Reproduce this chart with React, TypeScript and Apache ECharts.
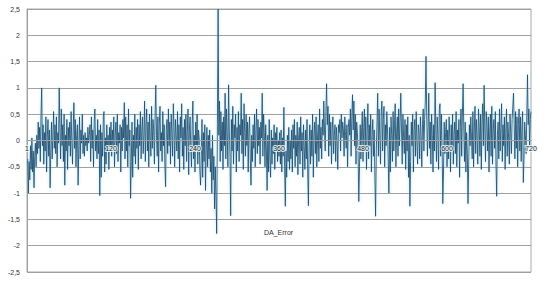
import React, { useEffect, useRef } from "react";
import * as echarts from "echarts";

const seriesName = "DA_Error";
const xTicks = [0, 120, 240, 360, 480, 600, 720];
const yMin = -2.5;
const yMax = 2.5;

const errValues: number[] = [
  -0.35, -1.0, -0.4, -0.75, -0.1, -0.55, 0.05, -0.6, -0.2, -0.9, -0.3, -0.05, -0.5, 0.1, -0.25, 0.35, -0.15, 0.25, -0.4, 0.5,
  1.0, -0.1, 0.3, -0.45, 0.15, -0.2, 0.45, -0.6, 0.05, 0.4, -0.3, 0.2, -0.9, -0.2, 0.35, -0.35, 0.1, 0.55, -0.15, 0.3,
  -0.25, 0.45, -0.5, 0.15, -0.05, 1.0, 0.2, -0.35, 0.6, -0.1, 0.3, -0.4, 0.5, -0.85, 0.1, -0.2, 0.4, -0.55, 0.25, -0.1,
  0.35, -0.3, 0.55, 0.0, -0.45, 0.2, 0.72, -0.15, 0.4, -0.5, 0.1, 0.3, -0.85, -0.1, 0.45, -0.35, 0.2, -0.05, 0.5, -0.25,
  0.1, -0.3, 0.15, -0.1, 0.05, -0.2, 0.25, -0.05, 0.1, 0.3, -0.4, 0.45, -0.15, 0.2, -0.5, 0.35, 0.6, -0.2, 0.1, -0.35,
  0.4, -0.25, 0.2, -1.05, 0.3, -0.7, 0.15, -0.3, 0.45, 0.55, -0.6, 0.05, -0.45, 0.3, -0.2, 0.1, -0.55, 0.25, -0.1, 0.35,
  -0.3, 0.2, -0.15, 0.45, -0.5, 0.1, 0.35, -0.25, 0.5, -0.4, 0.15, -0.05, 0.3, -0.6, 0.25, -0.2, 0.4, 0.05, 0.72, -0.35,
  0.45, -0.2, 0.3, -0.5, 0.6, -0.1, 0.2, -1.1, -0.4, 0.35, -0.7, 0.1, -0.3, 0.5, -0.45, 0.25, -0.15, 0.4, -0.55, 0.3,
  -0.1, 0.55, -0.35, 0.2, 0.45, -0.25, 0.1, 0.75, -0.4, 0.3, 0.6, -0.2, 0.35, -0.5, 0.5, 0.05, -0.3, 0.65, -0.15, 0.4,
  0.2, -0.45, 0.5, 1.05, 0.1, -0.3, 0.45, -0.6, 0.3, 0.65, -0.2, 0.15, -0.4, 0.55, -0.1, 0.3, -0.5, -0.88, 0.2, 0.4,
  -0.25, 0.6, -0.1, 0.35, -0.45, 0.5, 0.15, -0.3, 0.7, 0.25, -0.5, 0.4, 0.1, -0.2, 0.55, -0.35, 0.3, -0.6, 0.45, 0.05,
  0.7, -0.3, 0.25, -0.55, 0.4, -0.1, 0.5, -0.4, 0.15, 0.6, -0.65, 0.2, 0.45, -0.2, -0.5, 0.3, 0.75, -0.35, 0.1, -0.6,
  0.35, -0.2, 0.5, -0.45, 0.2, 0.05, -0.6, -0.85, -0.3, 0.4, -0.7, 0.15, -0.4, 0.3, -0.95, -0.2, 0.25, -0.5, 0.1, -0.35,
  0.2, -0.6, -0.15, -1.0, 0.1, -0.75, -0.3, -1.3, -0.5, -1.1, -1.77, 0.3, 2.5, 0.1, 0.75, -0.4, 0.55, -0.2, 0.35, -0.55,
  0.45, -0.1, 0.9, -0.35, 0.6, 0.15, -0.5, 1.06, 0.2, -0.3, -1.43, 0.4, -0.2, 0.65, -0.45, 0.3, 0.05, 0.5, -0.6, 0.25,
  -0.2, 0.55, -0.4, 0.3, 0.1, 0.9, -0.25, 0.4, -0.55, 0.7, 0.15, -0.3, 0.5, -0.1, 0.35, -0.6, 0.2, 0.45, -0.35, -0.85,
  0.1, -0.4, 0.3, -0.15, 0.5, -0.5, 0.2, 0.6, -0.25, 0.4, -0.1, 0.25, -0.45, 0.35, 0.05, 0.9, -0.3, 0.5, 0.15, -0.5,
  0.3, -0.2, -0.95, 0.1, -0.6, 0.4, -0.35, -0.7, 0.2, -0.45, 0.05, -0.25, 0.3, -0.55, 0.15, -0.1, 0.25, -0.4, 0.0, -0.3,
  0.15, -0.45, 0.2, -0.6, 0.05, -0.3, 0.63, -0.5, -1.25, -0.2, -0.7, 0.1, -0.4, 0.25, -0.55, 0.0, -0.35, 0.2, -0.6, 0.3,
  -0.15, 0.4, -0.5, 0.1, -0.3, 0.35, -0.65, 0.05, 0.25, -0.45, 0.45, -0.2, 0.15, -0.7, 0.3, -0.1, -0.55, 0.2, -0.35, 0.4,
  -0.6, -1.24, -0.1, 0.3, -0.45, 0.2, -0.3, 0.5, -0.7, 0.1, 0.35, -0.25, 0.45, -0.5, 0.05, 0.3, -0.4, 0.6, -0.15, 0.25,
  -0.35, 0.4, 0.1, 0.75, 0.2, -0.2, 0.55, 1.08, 0.3, 0.65, -0.3, 0.5, -0.1, 0.35, -0.45, 0.2, 0.45, -0.25, 0.1, 0.3,
  -0.4, 0.25, 0.0, -0.55, 0.3, 0.15, 0.4, -0.2, 0.5, 0.05, 0.35, 0.2, -0.3, 0.45, 0.1, -0.15, 0.3, -0.5, 0.25, 0.4,
  0.1, 0.6, -0.3, 0.45, 0.87, 0.2, 0.75, -0.1, 0.5, -0.45, 0.35, 0.15, -0.25, -1.16, -0.5, 0.3, -0.35, 0.2, 0.55, -0.4,
  0.25, 0.6, -0.2, 0.45, -0.55, 0.15, 0.7, -0.35, 0.3, -0.1, 0.5, -0.6, 0.1, 0.4, -0.3, 0.2, -0.75, -1.44, -0.2, 0.35,
  0.9, -0.3, 0.6, 0.1, -0.45, 0.5, 0.75, -0.2, 0.4, 0.65, -0.5, 0.3, -0.1, 0.55, 0.2, -0.35, -1.0, 0.25, -0.6, 0.45,
  0.1, -0.4, 0.55, -0.2, 0.3, 0.7, -0.5, 0.15, 0.45, -0.3, 0.6, -0.1, 0.35, 0.9, 0.2, -0.45, 0.5, 0.05, -0.25, 0.4,
  -0.55, 0.3, -0.2, 0.45, -0.7, 0.1, -1.25, -0.4, 0.35, -0.1, 0.5, -0.6, 0.2, 0.4, -0.3, 0.55, 0.0, -0.45, 0.3, 0.15,
  -0.35, 0.45, 0.1, -0.5, 0.3, 0.6, -0.2, 0.4, 0.75, 1.6, 0.5, -0.3, 0.25, 0.9, -0.15, 0.35, -0.45, 0.5, 0.1, -0.6,
  0.3, -0.2, 1.1, 0.2, -0.4, 0.45, 0.1, -0.55, 0.6, 0.7, -0.3, 0.5, -0.1, -1.2, -0.6, 0.35, -0.25, 0.15, 0.4, -0.5,
  0.2, -0.35, 0.45, 0.05, -0.6, 0.3, -0.15, 0.5, -0.45, 0.1, 0.35, -0.25, 0.55, -0.5, 0.2, -0.05, 0.4, -0.7, 0.25, 0.6,
  -0.3, 0.5, 1.08, 0.2, -0.4, 0.35, -0.6, 0.15, -0.2, -1.2, -0.45, 0.3, -0.1, 0.45, 0.05, -0.35, 0.55, -0.5, 0.2, 0.65,
  -0.25, 0.4, 0.1, -0.45, 0.6, 0.25, -0.3, 0.5, -0.55, 0.35, 0.7, -0.1, 1.05, 0.2, -0.4, 0.55, 0.3, -0.2, 0.45, -0.6,
  0.15, 0.5, -0.3, 0.65, -0.45, 0.2, 0.4, -0.15, 0.55, -0.5, -1.06, 0.1, 0.35, -0.35, 0.6, -0.2, 0.25, 0.7, -0.4, 0.3,
  -0.1, 0.45, -0.55, 0.2, 0.6, -0.3, 0.35, 0.05, -0.45, 0.5, 0.15, -0.25, 0.4, 0.65, 0.9, 0.3, -0.35, 0.55, -0.15, 0.45,
  -0.5, 0.3, 0.6, -0.2, 0.45, -0.4, 0.2, 0.55, -0.8, -0.35, 0.35, 0.1, -0.25, 0.5, 1.25, 0.3, 0.6, -0.1, 0.4, 0.55,
];

export default function App() {
  const ref = useRef<HTMLDivElement>(null);

  useEffect(() => {
    if (!ref.current) return;
    const chart = echarts.init(ref.current, undefined, { renderer: "svg" });
    const data = errValues.map((v, i) => [i + 1, v]);
    const font = "Liberation Sans, Arial, sans-serif";
    const gridTop = 9;
    const gridBottom = 29;
    const plotH = 301 - gridTop - gridBottom;
    // distance from bottom of plot to the zero line, so the x axis sits on y = 0
    const zeroOffset = -(plotH * (0 - yMin)) / (yMax - yMin);
    chart.setOption({
      animation: false,
      backgroundColor: "#ffffff",
      grid: {
        left: 27,
        right: 29,
        top: gridTop,
        bottom: gridBottom,
        show: true,
        borderColor: "#a8a8a8",
        borderWidth: 1,
        backgroundColor: "transparent",
      },
      xAxis: {
        type: "value",
        position: "bottom",
        offset: zeroOffset,
        z: 10,
        min: xTicks[0],
        max: xTicks[xTicks.length - 1],
        interval: 120,
        axisLine: { show: true, onZero: false, lineStyle: { color: "#a0a0a0", width: 1 } },
        axisTick: { show: false },
        splitLine: { show: false },
        axisLabel: {
          fontSize: 7,
          fontFamily: font,
          color: "#222222",
          margin: 4,
          textBorderColor: "rgba(235, 250, 255, 0.9)",
          textBorderWidth: 2,
          showMinLabel: true,
          showMaxLabel: true,
          formatter: (v: number) => (v === 0 ? "1" : String(v)),
        },
      },
      yAxis: {
        type: "value",
        min: yMin,
        max: yMax,
        interval: 0.5,
        axisLine: { show: true, lineStyle: { color: "#a0a0a0", width: 1 } },
        axisTick: { show: false },
        splitLine: { show: true, lineStyle: { color: "#a0a0a0", width: 1 } },
        axisLabel: {
          fontSize: 7,
          fontFamily: font,
          color: "#333333",
          margin: 7,
          formatter: (v: number) => String(Math.round(v * 10) / 10).replace(".", ","),
        },
      },
      graphic: [
        {
          type: "text",
          left: 264,
          top: 229,
          style: { text: seriesName, fontSize: 7, fontFamily: font, fill: "#333333" },
        },
      ],
      series: [
        {
          name: seriesName,
          type: "line",
          data,
          showSymbol: false,
          symbol: "none",
          z: 1,
          lineStyle: {
            color: "#1f4d72",
            width: 0.9,
            shadowColor: "rgba(140, 215, 240, 0.7)",
            shadowBlur: 3,
          },
          itemStyle: { color: "#1f4d72" },
        },
      ],
    });
    return () => chart.dispose();
  }, []);

  return (
    <div
      ref={ref}
      style={{ position: "fixed", left: 0, top: 0, width: 560, height: 301, background: "#fff" }}
    />
  );
}
